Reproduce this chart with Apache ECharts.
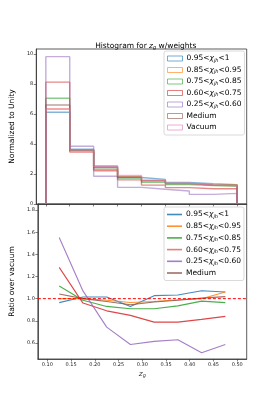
<!DOCTYPE html>
<html><head><meta charset="utf-8">
<script src="https://cdn.jsdelivr.net/npm/echarts@6/dist/echarts.min.js"></script>
<style>html,body{margin:0;padding:0;background:#fff}#c{width:274px;height:411px}</style>
</head><body><div id="c"></div>
<script>
const binEdges = [0.10,0.15,0.20,0.25,0.30,0.35,0.40,0.45,0.50];
const binCenters = [0.125,0.175,0.225,0.275,0.325,0.375,0.425,0.475];
const xTicks = [0.10,0.15,0.20,0.25,0.30,0.35,0.40,0.45,0.50];
const yTopTicks = [0,2,4,6,8,10];
const yBotTicks = [0.6,0.8,1.0,1.2,1.4,1.6,1.8];
const labels = ['0.95<χjh<1','0.85<χjh<0.95','0.75<χjh<0.85','0.60<χjh<0.75','0.25<χjh<0.60','Medium','Vacuum'];
const colors = ['#1f77b4','#ff7f0e','#2ca02c','#d62728','#9467bd','#8c564b','#e377c2'];
// normalized histograms
const hBlue   = [6.11,3.65,2.53,1.77,1.64,1.43,1.35,1.29];
const hOrange = [6.33,3.60,2.45,1.83,1.56,1.37,1.26,1.29];
const hGreen  = [7.05,3.55,2.32,1.73,1.45,1.29,1.23,1.18];
const hRed    = [8.12,3.46,2.22,1.61,1.26,1.09,1.02,1.02];
const hPurple = [9.82,3.85,1.85,1.11,0.98,0.87,0.64,0.71];
const hBrown  = [6.60,3.60,2.43,1.80,1.55,1.36,1.27,1.24];
const hVacuum = [6.33,3.60,2.49,1.90,1.60,1.38,1.26,1.22];
// ratio over vacuum
const rBlue   = [0.964,1.015,1.015,0.930,1.027,1.033,1.072,1.060];
const rOrange = [1.000,1.000,0.985,0.965,0.975,0.990,1.000,1.060];
const rGreen  = [1.114,0.985,0.930,0.909,0.909,0.935,0.978,0.964];
const rRed    = [1.283,0.960,0.890,0.849,0.788,0.788,0.813,0.840];
const rPurple = [1.552,1.070,0.743,0.586,0.614,0.629,0.511,0.586];
const rBrown  = [1.042,1.000,0.975,0.945,0.970,0.985,1.005,1.018];
const refLine = 1.0;

const hists = [hBlue,hOrange,hGreen,hRed,hPurple,hBrown,hVacuum];
const ratios = [rBlue,rOrange,rGreen,rRed,rPurple,rBrown];

function stepPts(v){
  const p=[[binEdges[0],0]];
  for(let i=0;i<v.length;i++){p.push([binEdges[i],v[i]]);p.push([binEdges[i+1],v[i]]);}
  p.push([binEdges[binEdges.length-1],0]);
  return p;
}
function fmtName(n){
  n = n.replace(/^r:/,'');
  const m = n.match(/^(.*)χjh(.*)$/);
  if(m) return m[1]+'{i|χ}{s|jh}'+m[2];
  return n;
}
const FONT='DejaVu Sans';
const richTxt = {
  i:{fontFamily:FONT,fontStyle:'italic',fontSize:7.5,color:'#000',lineHeight:9},
  s:{fontFamily:FONT,fontStyle:'italic',fontSize:5,color:'#000',verticalAlign:'bottom',lineHeight:9,padding:[2,0,0,0]}
};
const axCol='#333';
function xAxis(gi,showLabels){
  return {type:'value',gridIndex:gi,min:0.08,max:0.52,
    axisLine:{show:true,lineStyle:{color:axCol,width:0.8}},
    axisTick:{show:true,inside:false,length:2.5,customValues:xTicks,lineStyle:{color:axCol,width:0.6}},
    axisLabel:{show:showLabels,customValues:xTicks,fontSize:5,fontFamily:FONT,color:'#222',margin:3,formatter:v=>v.toFixed(2)},
    splitLine:{show:false},
    name: showLabels?'{i|z}{s|g}':'', nameLocation:'middle', nameGap:11,
    nameTextStyle:{fontFamily:FONT,fontSize:7.5,rich:{i:{fontFamily:FONT,fontStyle:'italic',fontSize:7.5},s:{fontFamily:FONT,fontStyle:'italic',fontSize:5,verticalAlign:'bottom',padding:[3,0,0,0]}}}
  };
}
const series=[];
hists.forEach((h,k)=>{
  series.push({name:labels[k],type:'line',xAxisIndex:0,yAxisIndex:0,data:stepPts(h),symbol:'none',
    lineStyle:{color:colors[k],width:1.4,opacity:0.55},itemStyle:{color:colors[k]},silent:true,z:2+k});
});
ratios.forEach((r,k)=>{
  const s={name:'r:'+labels[k],type:'line',xAxisIndex:1,yAxisIndex:1,data:binCenters.map((x,i)=>[x,r[i]]),symbol:'none',
    lineStyle:{color:colors[k],width:1.1,opacity:0.85},itemStyle:{color:colors[k]},silent:true,z:2+k};
  series.push(s);
});
series.push({name:'ref',type:'line',xAxisIndex:1,yAxisIndex:1,data:[[0.08,refLine],[0.52,refLine]],symbol:'none',
  lineStyle:{color:'#ff0000',width:1,type:[3,2]},silent:true,z:20});

const topLegendData = labels.map((n,k)=>({name:n,icon:'rect',itemStyle:{color:'rgba(255,255,255,0)',borderColor:colors[k],borderWidth:1,opacity:0.6}}));
const botLegendData = labels.slice(0,6).map((n,k)=>({name:'r:'+n,icon:'rect',itemStyle:{color:colors[k],opacity:k===3?0.6:0.85}}));

const chart=echarts.init(document.getElementById('c'),null,{renderer:'canvas'});
chart.setOption({
  animation:false,
  backgroundColor:'#fff',
  title:{text:'Histogram for {i|z}{s|g} w/weights',left:140.8,textAlign:'center',top:37,
    textStyle:{fontFamily:FONT,fontSize:7.5,fontWeight:'normal',color:'#000',
      rich:{i:{fontFamily:FONT,fontStyle:'italic',fontSize:7.5},s:{fontFamily:FONT,fontStyle:'italic',fontSize:5,verticalAlign:'bottom',padding:[3,0,0,0]}}}},
  grid:[
    {left:35,top:49,width:211.7,height:155,show:true,borderColor:axCol,borderWidth:0.8,backgroundColor:'transparent'},
    {left:35,top:204,width:211.7,height:155,show:true,borderColor:axCol,borderWidth:0.8,backgroundColor:'transparent'}
  ],
  xAxis:[xAxis(0,false),xAxis(1,true)],
  yAxis:[
    {type:'value',gridIndex:0,min:0,max:10.33,
      axisLine:{show:true,lineStyle:{color:axCol,width:0.8}},
      axisTick:{show:true,length:2.5,customValues:yTopTicks,lineStyle:{color:axCol,width:0.6}},
      axisLabel:{customValues:yTopTicks,fontSize:5,fontFamily:FONT,color:'#222',margin:3},
      splitLine:{show:false},
      name:'Normalized to Unity',nameLocation:'middle',nameGap:13,nameRotate:90,
      nameTextStyle:{fontFamily:FONT,fontSize:7.5,color:'#000'}},
    {type:'value',gridIndex:1,min:0.455,max:1.855,
      axisLine:{show:true,lineStyle:{color:axCol,width:0.8}},
      axisTick:{show:true,length:2.5,customValues:yBotTicks,lineStyle:{color:axCol,width:0.6}},
      axisLabel:{customValues:yBotTicks,fontSize:5,fontFamily:FONT,color:'#222',margin:3,formatter:v=>v.toFixed(1)},
      splitLine:{show:false},
      name:'Ratio over vacuum',nameLocation:'middle',nameGap:14,nameRotate:90,
      nameTextStyle:{fontFamily:FONT,fontSize:7.5,color:'#000'}}
  ],
  legend:[
    {data:topLegendData,orient:'vertical',left:164,top:51,itemWidth:15,itemHeight:5,itemGap:2.5,
      padding:[3,3,3,3],borderColor:'#d0d0d0',borderWidth:0.8,borderRadius:2,backgroundColor:'rgba(255,255,255,0.8)',
      formatter:fmtName,selectedMode:false,
      textStyle:{fontFamily:FONT,fontSize:7.5,color:'#000',lineHeight:9,padding:[0,0,0,-1],rich:richTxt}},
    {data:botLegendData,orient:'vertical',left:164,top:207,itemWidth:15,itemHeight:1.6,itemGap:2.7,
      padding:[3,3,3,3],borderColor:'#d0d0d0',borderWidth:0.8,borderRadius:2,backgroundColor:'rgba(255,255,255,0.8)',
      formatter:fmtName,selectedMode:false,
      textStyle:{fontFamily:FONT,fontSize:7.5,color:'#000',lineHeight:9,padding:[0,0,0,-1],rich:richTxt}}
  ],
  series:series
});
</script></body></html>
